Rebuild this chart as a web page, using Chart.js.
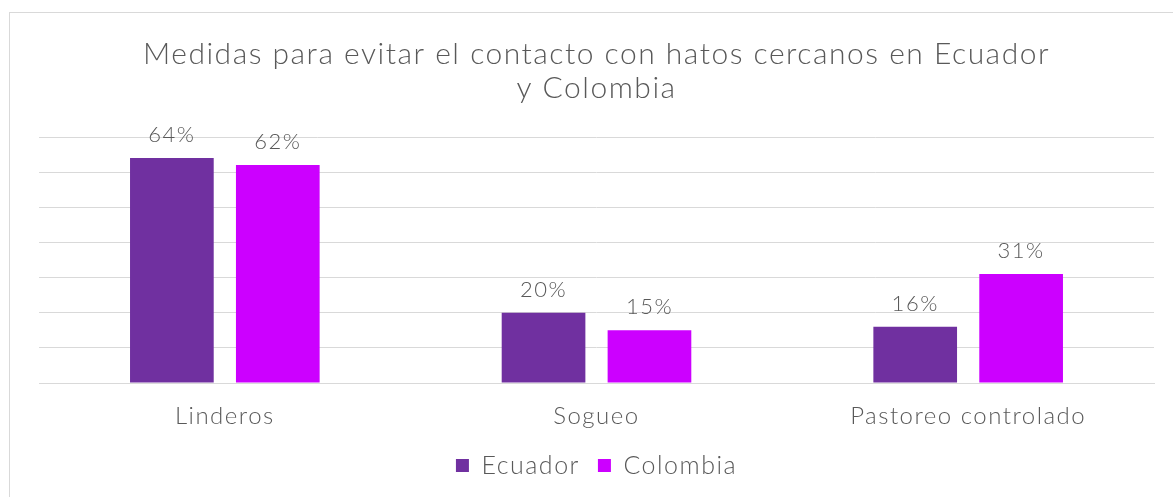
<!DOCTYPE html>
<html>
<head>
<meta charset="utf-8">
<script src="https://cdn.jsdelivr.net/npm/chart.js@4.4.0/dist/chart.umd.min.js"></script>
<style>
  html, body { margin: 0; padding: 0; background: #ffffff; overflow: hidden; }
  #frame { position: absolute; left: 9px; top: 12px; width: 1200px; height: 520px;
           border: 1px solid #d9d9d9; box-sizing: border-box; }
  #wrap { position: absolute; left: 0; top: 0; width: 1173px; height: 497px; }
</style>
</head>
<body>
<div id="frame"></div>
<div id="wrap"><canvas id="c" width="1173" height="497"></canvas></div>
<script>
// Chart data
const categories = ['Linderos', 'Sogueo', 'Pastoreo controlado'];
const ecuador = [64, 20, 16];
const colombia = [62, 15, 31];
const seriesNames = ['Ecuador', 'Colombia'];
const titleLines = ['Medidas para evitar el contacto con hatos cercanos en Ecuador', 'y Colombia'];

const FONT = 'Lato, "Noto Sans", sans-serif';
const TEXT = '#595959';
const GRID = '#d9d9d9';
const SPACING = '1.5px';

// Slightly open tracking for all canvas text (set before layout and before drawing)
const tracking = {
  id: 'tracking',
  beforeUpdate(chart) { chart.ctx.letterSpacing = SPACING; },
  beforeDraw(chart) { chart.ctx.letterSpacing = SPACING; }
};

// Percentage labels above each bar
const valueLabels = {
  id: 'valueLabels',
  afterDatasetsDraw(chart) {
    const ctx = chart.ctx;
    ctx.save();
    ctx.letterSpacing = SPACING;
    ctx.font = '300 22px ' + FONT;
    ctx.fillStyle = TEXT;
    ctx.textAlign = 'center';
    ctx.textBaseline = 'alphabetic';
    chart.data.datasets.forEach((ds, i) => {
      chart.getDatasetMeta(i).data.forEach((bar, j) => {
        ctx.fillText(ds.data[j] + '%', bar.x, bar.y - 16);
      });
    });
    ctx.restore();
  }
};

new Chart(document.getElementById('c'), {
  type: 'bar',
  data: {
    labels: categories,
    datasets: [
      { label: seriesNames[0], data: ecuador, backgroundColor: '#7030a0' },
      { label: seriesNames[1], data: colombia, backgroundColor: '#cc00ff' }
    ]
  },
  options: {
    responsive: false,
    animation: false,
    devicePixelRatio: 1,
    categoryPercentage: 0.57,
    barPercentage: 0.79,
    layout: { padding: { left: 39, right: 19, top: 0, bottom: 9 } },
    plugins: {
      tooltip: { enabled: false },
      title: {
        display: true,
        text: titleLines,
        color: TEXT,
        font: { family: FONT, size: 30, weight: '300', lineHeight: 34 / 30 },
        padding: { top: 37, bottom: 32 }
      },
      legend: {
        position: 'bottom',
        labels: {
          color: TEXT,
          font: { family: FONT, size: 25, weight: '300' },
          boxWidth: 13,
          boxHeight: 13,
          padding: 18
        }
      }
    },
    scales: {
      x: {
        grid: { display: false },
        border: { display: true, color: GRID, width: 1 },
        ticks: { color: TEXT, font: { family: FONT, size: 24, weight: '300' }, padding: 11 },
        afterFit(scale) { scale.height = 52; }
      },
      y: {
        min: 0,
        max: 70,
        ticks: { display: false, stepSize: 10 },
        grid: { color: GRID, lineWidth: 1, drawTicks: false },
        border: { display: false }
      }
    }
  },
  plugins: [tracking, valueLabels]
});
</script>
</body>
</html>
